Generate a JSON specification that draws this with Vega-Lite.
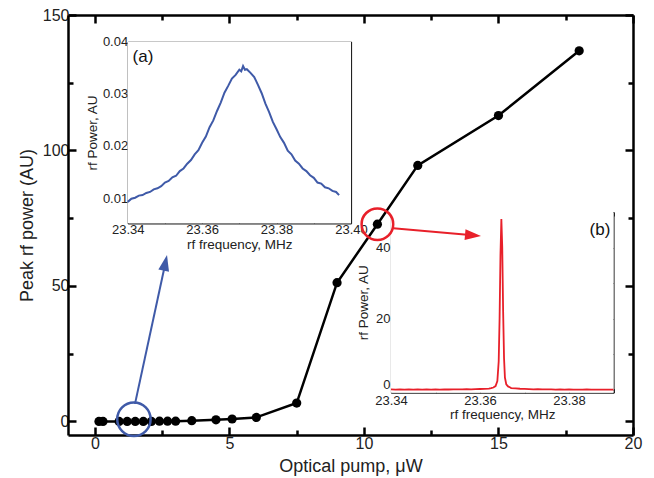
{
  "$schema": "https://vega.github.io/schema/vega-lite/v6.json",
  "width": 565,
  "height": 420,
  "autosize": {"type": "none"},
  "padding": {"left": 68, "top": 15, "right": 21, "bottom": 43},
  "background": "white",
  "config": {
    "view": {"stroke": null},
    "axis": {"grid": false, "labelFlush": false, "labelOverlap": false, "zindex": 1, "labelFont": "Liberation Sans", "titleFont": "Liberation Sans", "titleFontWeight": "normal"}
  },
  "datasets": {
    "main": [
      {"pump": 0.15, "power": 0}, {"pump": 0.3, "power": 0}, {"pump": 0.9, "power": 0}, {"pump": 1.2, "power": 0},
      {"pump": 1.5, "power": 0}, {"pump": 1.8, "power": 0}, {"pump": 2.1, "power": 0}, {"pump": 2.4, "power": 0.1},
      {"pump": 2.7, "power": 0.1}, {"pump": 3.0, "power": 0.1}, {"pump": 3.6, "power": 0.3}, {"pump": 4.5, "power": 0.6},
      {"pump": 5.1, "power": 0.9}, {"pump": 6.0, "power": 1.5}, {"pump": 7.5, "power": 6.8}, {"pump": 9.0, "power": 51.2},
      {"pump": 10.5, "power": 72.8}, {"pump": 12.0, "power": 94.5}, {"pump": 15.0, "power": 112.9}, {"pump": 18.0, "power": 136.8}
    ],
    "specA": [
      {"f": 23.340, "p": 0.0093}, {"f": 23.341, "p": 0.0099}, {"f": 23.342, "p": 0.0101}, {"f": 23.343, "p": 0.0105},
      {"f": 23.344, "p": 0.0106}, {"f": 23.345, "p": 0.0110}, {"f": 23.346, "p": 0.0112}, {"f": 23.347, "p": 0.0117},
      {"f": 23.348, "p": 0.0119}, {"f": 23.349, "p": 0.0123}, {"f": 23.350, "p": 0.0130}, {"f": 23.351, "p": 0.0133},
      {"f": 23.352, "p": 0.0140}, {"f": 23.353, "p": 0.0143}, {"f": 23.354, "p": 0.0152}, {"f": 23.355, "p": 0.0157},
      {"f": 23.356, "p": 0.0166}, {"f": 23.357, "p": 0.0173}, {"f": 23.358, "p": 0.0184}, {"f": 23.359, "p": 0.0192},
      {"f": 23.360, "p": 0.0206}, {"f": 23.361, "p": 0.0218}, {"f": 23.362, "p": 0.0236}, {"f": 23.363, "p": 0.0249},
      {"f": 23.364, "p": 0.0267}, {"f": 23.365, "p": 0.0283}, {"f": 23.366, "p": 0.0302}, {"f": 23.367, "p": 0.0315},
      {"f": 23.368, "p": 0.0329}, {"f": 23.369, "p": 0.0336}, {"f": 23.370, "p": 0.0346}, {"f": 23.3705, "p": 0.0343},
      {"f": 23.371, "p": 0.0353}, {"f": 23.3715, "p": 0.0346}, {"f": 23.372, "p": 0.0347}, {"f": 23.373, "p": 0.0340},
      {"f": 23.374, "p": 0.0332}, {"f": 23.375, "p": 0.0317}, {"f": 23.376, "p": 0.0301}, {"f": 23.377, "p": 0.0281},
      {"f": 23.378, "p": 0.0265}, {"f": 23.379, "p": 0.0246}, {"f": 23.380, "p": 0.0232}, {"f": 23.381, "p": 0.0217},
      {"f": 23.382, "p": 0.0206}, {"f": 23.383, "p": 0.0191}, {"f": 23.384, "p": 0.0184}, {"f": 23.385, "p": 0.0172},
      {"f": 23.386, "p": 0.0166}, {"f": 23.387, "p": 0.0157}, {"f": 23.388, "p": 0.0152}, {"f": 23.389, "p": 0.0144},
      {"f": 23.390, "p": 0.0139}, {"f": 23.391, "p": 0.0130}, {"f": 23.392, "p": 0.0128}, {"f": 23.393, "p": 0.0121},
      {"f": 23.394, "p": 0.0119}, {"f": 23.395, "p": 0.0114}, {"f": 23.396, "p": 0.0112}, {"f": 23.3968, "p": 0.0106}
    ],
    "specB": [
      {"f": 23.340, "p": 0.15}, {"f": 23.341, "p": 0.1}, {"f": 23.342, "p": 0.18}, {"f": 23.343, "p": 0.12},
      {"f": 23.344, "p": 0.15}, {"f": 23.345, "p": 0.1}, {"f": 23.346, "p": 0.17}, {"f": 23.347, "p": 0.12},
      {"f": 23.348, "p": 0.14}, {"f": 23.349, "p": 0.1}, {"f": 23.350, "p": 0.15}, {"f": 23.351, "p": 0.12},
      {"f": 23.352, "p": 0.18}, {"f": 23.353, "p": 0.14}, {"f": 23.354, "p": 0.16}, {"f": 23.355, "p": 0.2},
      {"f": 23.356, "p": 0.17}, {"f": 23.357, "p": 0.22}, {"f": 23.358, "p": 0.2}, {"f": 23.359, "p": 0.25},
      {"f": 23.360, "p": 0.28}, {"f": 23.361, "p": 0.3}, {"f": 23.362, "p": 0.4}, {"f": 23.3625, "p": 0.5},
      {"f": 23.363, "p": 0.7}, {"f": 23.3635, "p": 1.1}, {"f": 23.3639, "p": 2.5}, {"f": 23.3642, "p": 8},
      {"f": 23.3644, "p": 20}, {"f": 23.3646, "p": 38}, {"f": 23.3648, "p": 48}, {"f": 23.3650, "p": 40},
      {"f": 23.3652, "p": 22}, {"f": 23.3654, "p": 9}, {"f": 23.3656, "p": 3.5}, {"f": 23.3659, "p": 1.6},
      {"f": 23.3663, "p": 1.0}, {"f": 23.3668, "p": 0.7}, {"f": 23.367, "p": 0.55}, {"f": 23.368, "p": 0.45},
      {"f": 23.369, "p": 0.35}, {"f": 23.370, "p": 0.3}, {"f": 23.371, "p": 0.25}, {"f": 23.372, "p": 0.2},
      {"f": 23.373, "p": 0.22}, {"f": 23.374, "p": 0.18}, {"f": 23.375, "p": 0.15}, {"f": 23.376, "p": 0.17},
      {"f": 23.377, "p": 0.12}, {"f": 23.378, "p": 0.15}, {"f": 23.379, "p": 0.11}, {"f": 23.380, "p": 0.14},
      {"f": 23.381, "p": 0.1}, {"f": 23.382, "p": 0.13}, {"f": 23.383, "p": 0.11}, {"f": 23.384, "p": 0.14},
      {"f": 23.385, "p": 0.1}, {"f": 23.386, "p": 0.12}, {"f": 23.387, "p": 0.1}, {"f": 23.388, "p": 0.13},
      {"f": 23.389, "p": 0.11}, {"f": 23.390, "p": 0.12}
    ],
    "frameA": [{"x1": 23.34, "x2": 23.40, "y1": 0.0052, "y2": 0.04}],
    "frameB": [{"x1": 23.34, "x2": 23.39, "y1": -0.76, "y2": 50}],
    "labelA": [{"f": 23.3413, "p": 0.0371, "t": "(a)"}],
    "labelB": [{"f": 23.3893, "p": 44.9, "t": "(b)"}],
    "circles": [
      {"x": 1.45, "y": 0.8, "c": "#3f5aa8", "s": 1115},
      {"x": 10.5, "y": 72.8, "c": "#e8202a", "s": 1000}
    ],
    "arrowLines": [
      {"x": 1.49, "y": 6.5, "x2": 2.62, "y2": 58.5, "c": "#3f5aa8"},
      {"x": 11.09, "y": 71.3, "x2": 14.05, "y2": 68.7, "c": "#e8202a"}
    ],
    "arrowHeads": [
      {"x": 2.68, "y": 61.4, "ang": 12, "c": "#3f5aa8"},
      {"x": 14.35, "y": 68.45, "ang": 95, "c": "#e8202a"}
    ]
  },
  "resolve": {
    "scale": {"x": "independent", "y": "independent"},
    "axis": {"x": "independent", "y": "independent"}
  },
  "layer": [
    {
      "data": {"name": "main"},
      "mark": {"type": "line", "color": "black", "strokeWidth": 2.5},
      "encoding": {
        "x": {"field": "pump", "type": "quantitative",
          "scale": {"domain": [-1, 20], "nice": false, "zero": false},
          "axis": {"orient": "bottom", "values": [0, 2.5, 5, 7.5, 10, 12.5, 15, 17.5, 20],
            "labelExpr": "datum.value % 5 == 0 ? datum.label : ''",
            "tickSize": {"condition": {"test": "datum.value % 5 == 0", "value": -8}, "value": -5},
            "tickWidth": 2.5, "tickColor": "black", "domainColor": "black", "domainWidth": 2.5,
            "labelFontSize": 16, "labelColor": "#222", "labelPadding": 8,
            "title": "Optical pump, μW", "titleFontSize": 18, "titleColor": "#222", "titlePadding": 3}},
        "y": {"field": "power", "type": "quantitative",
          "scale": {"domain": [-5, 150], "nice": false, "zero": false},
          "axis": {"orient": "left", "values": [0, 25, 50, 75, 100, 125, 150],
            "labelExpr": "datum.value % 50 == 0 ? datum.label : ''",
            "tickSize": {"condition": {"test": "datum.value % 50 == 0", "value": -8}, "value": -5},
            "tickWidth": 2.5, "tickColor": "black", "domainColor": "black", "domainWidth": 2.5,
            "labelFontSize": 16, "labelColor": "#222", "labelPadding": 7,
            "title": "Peak rf power (AU)", "titleFontSize": 18, "titleColor": "#222", "titlePadding": 6}}
      }
    },
    {
      "data": {"name": "main"},
      "mark": {"type": "point", "filled": true, "color": "black", "opacity": 1, "size": 85},
      "encoding": {
        "x": {"field": "pump", "type": "quantitative", "scale": {"domain": [-1, 20], "nice": false, "zero": false}, "axis": null},
        "y": {"field": "power", "type": "quantitative", "scale": {"domain": [-5, 150], "nice": false, "zero": false}, "axis": null}
      }
    },
    {
      "data": {"name": "frameA"},
      "mark": {"type": "rect", "fill": "white"},
      "encoding": {
        "x": {"field": "x1", "type": "quantitative",
          "scale": {"domain": [23.34, 23.40], "range": [59.7, 283], "nice": false, "zero": false},
          "axis": {"orient": "bottom", "offset": -211.7, "values": [23.34, 23.35, 23.36, 23.37, 23.38, 23.39, 23.40],
            "labelExpr": "round(datum.value*1000) % 20 == 0 ? format(datum.value, '.2f') : ''",
            "tickSize": -4, "tickWidth": 1, "tickColor": "#222", "domainColor": "#222", "domainWidth": 1.2,
            "labelFontSize": 13, "labelColor": "#222", "labelPadding": 4,
            "title": "rf  frequency, MHz", "titleFontSize": 13.5, "titleColor": "#222", "titlePadding": 1}},
        "x2": {"field": "x2"},
        "y": {"field": "y1", "type": "quantitative",
          "scale": {"domain": [0.0052, 0.04], "range": [208.3, 26.5], "nice": false, "zero": false},
          "axis": {"orient": "left", "offset": -59.7, "values": [0.01, 0.015, 0.02, 0.025, 0.03, 0.035, 0.04],
            "labelExpr": "round(datum.value*1000) % 10 == 0 ? format(datum.value, '.2f') : ''",
            "tickSize": -4, "tickWidth": 1, "tickColor": "#222", "domainColor": "#222", "domainWidth": 1.2,
            "labelFontSize": 13, "labelColor": "#222", "labelPadding": 4,
            "title": "rf Power, AU", "titleFontSize": 13.5, "titleColor": "#222", "titlePadding": 3}},
        "y2": {"field": "y2"}
      }
    },
    {
      "data": {"name": "specA"},
      "mark": {"type": "line", "color": "#3f5aa8", "strokeWidth": 2},
      "encoding": {
        "x": {"field": "f", "type": "quantitative",
          "scale": {"domain": [23.34, 23.40], "range": [59.7, 283], "nice": false, "zero": false},
          "axis": {"orient": "top", "offset": -26.5, "values": [23.34, 23.35, 23.36, 23.37, 23.38, 23.39, 23.40],
            "labels": false, "title": null, "tickSize": -4, "tickWidth": 1, "tickColor": "#222", "domainColor": "#222", "domainWidth": 1.2}},
        "y": {"field": "p", "type": "quantitative",
          "scale": {"domain": [0.0052, 0.04], "range": [208.3, 26.5], "nice": false, "zero": false},
          "axis": {"orient": "right", "offset": -282, "values": [0.01, 0.015, 0.02, 0.025, 0.03, 0.035, 0.04],
            "labels": false, "title": null, "tickSize": -4, "tickWidth": 1, "tickColor": "#222", "domainColor": "#222", "domainWidth": 1.2}}
      }
    },
    {
      "data": {"name": "labelA"},
      "mark": {"type": "text", "align": "left", "baseline": "middle", "font": "Liberation Sans", "fontSize": 17, "color": "#111"},
      "encoding": {
        "x": {"field": "f", "type": "quantitative", "scale": {"domain": [23.34, 23.40], "range": [59.7, 283], "nice": false, "zero": false}, "axis": null},
        "y": {"field": "p", "type": "quantitative", "scale": {"domain": [0.0052, 0.04], "range": [208.3, 26.5], "nice": false, "zero": false}, "axis": null},
        "text": {"field": "t"}
      }
    },
    {
      "data": {"name": "frameB"},
      "mark": {"type": "rect", "fill": "white"},
      "encoding": {
        "x": {"field": "x1", "type": "quantitative",
          "scale": {"domain": [23.34, 23.39], "range": [323, 545.5], "nice": false, "zero": false},
          "axis": {"orient": "bottom", "offset": -42.3, "values": [23.34, 23.35, 23.36, 23.37, 23.38, 23.39],
            "labelExpr": "round(datum.value*1000) % 20 == 0 ? format(datum.value, '.2f') : ''",
            "tickSize": -4, "tickWidth": 1, "tickColor": "#222", "domainColor": "#222", "domainWidth": 1.2,
            "labelFontSize": 13, "labelColor": "#222", "labelPadding": 6,
            "title": "rf  frequency, MHz", "titleFontSize": 13.5, "titleColor": "#222", "titlePadding": 0}},
        "x2": {"field": "x2"},
        "y": {"field": "y1", "type": "quantitative",
          "scale": {"domain": [-0.76, 50], "range": [377.7, 197], "nice": false, "zero": false},
          "axis": {"orient": "left", "offset": -323, "values": [0, 10, 20, 30, 40],
            "labelExpr": "datum.value % 20 == 0 ? datum.label : ''",
            "tickSize": -4, "tickWidth": 1, "tickColor": "#222", "domainColor": "#222", "domainWidth": 1.2,
            "labelFontSize": 13, "labelColor": "#222", "labelPadding": 5,
            "labelOffset": {"condition": {"test": "datum.value == 0", "value": -5}, "value": 0},
            "title": "rf Power, AU", "titleFontSize": 13.5, "titleColor": "#222", "titlePadding": 5}},
        "y2": {"field": "y2"}
      }
    },
    {
      "data": {"name": "specB"},
      "mark": {"type": "line", "color": "#e8202a", "strokeWidth": 1.8},
      "encoding": {
        "x": {"field": "f", "type": "quantitative",
          "scale": {"domain": [23.34, 23.39], "range": [323, 545.5], "nice": false, "zero": false},
          "axis": {"orient": "top", "offset": -197, "values": [23.34, 23.35, 23.36, 23.37, 23.38, 23.39],
            "labels": false, "title": null, "tickSize": -4, "tickWidth": 1, "tickColor": "#222", "domainColor": "#222", "domainWidth": 1.2}},
        "y": {"field": "p", "type": "quantitative",
          "scale": {"domain": [-0.76, 50], "range": [377.7, 197], "nice": false, "zero": false},
          "axis": {"orient": "right", "offset": -19.5, "values": [0, 10, 20, 30, 40],
            "labels": false, "title": null, "tickSize": -4, "tickWidth": 1, "tickColor": "#222", "domainColor": "#222", "domainWidth": 1.2}}
      }
    },
    {
      "data": {"name": "labelB"},
      "mark": {"type": "text", "align": "right", "baseline": "middle", "font": "Liberation Sans", "fontSize": 17, "color": "#111"},
      "encoding": {
        "x": {"field": "f", "type": "quantitative", "scale": {"domain": [23.34, 23.39], "range": [323, 545.5], "nice": false, "zero": false}, "axis": null},
        "y": {"field": "p", "type": "quantitative", "scale": {"domain": [-0.76, 50], "range": [377.7, 197], "nice": false, "zero": false}, "axis": null},
        "text": {"field": "t"}
      }
    },
    {
      "data": {"name": "circles"},
      "mark": {"type": "point", "shape": "circle", "filled": false, "strokeWidth": 2.5, "opacity": 1},
      "encoding": {
        "x": {"field": "x", "type": "quantitative",
          "scale": {"domain": [-1, 20], "nice": false, "zero": false},
          "axis": {"orient": "top", "values": [0, 2.5, 5, 7.5, 10, 12.5, 15, 17.5, 20], "labels": false, "title": null,
            "tickSize": {"condition": {"test": "datum.value % 5 == 0", "value": -8}, "value": -5},
            "tickWidth": 2.5, "tickColor": "black", "domainColor": "black", "domainWidth": 2.5}},
        "y": {"field": "y", "type": "quantitative",
          "scale": {"domain": [-5, 150], "nice": false, "zero": false},
          "axis": {"orient": "right", "values": [0, 25, 50, 75, 100, 125, 150], "labels": false, "title": null,
            "tickSize": {"condition": {"test": "datum.value % 50 == 0", "value": -8}, "value": -5},
            "tickWidth": 2.5, "tickColor": "black", "domainColor": "black", "domainWidth": 2.5}},
        "stroke": {"field": "c", "type": "nominal", "scale": null},
        "size": {"field": "s", "type": "quantitative", "scale": null}
      }
    },
    {
      "data": {"name": "arrowLines"},
      "mark": {"type": "rule", "strokeWidth": 2},
      "encoding": {
        "x": {"field": "x", "type": "quantitative", "scale": {"domain": [-1, 20], "nice": false, "zero": false}, "axis": null},
        "y": {"field": "y", "type": "quantitative", "scale": {"domain": [-5, 150], "nice": false, "zero": false}, "axis": null},
        "x2": {"field": "x2"},
        "y2": {"field": "y2"},
        "color": {"field": "c", "type": "nominal", "scale": null}
      }
    },
    {
      "data": {"name": "arrowHeads"},
      "mark": {"type": "point", "shape": "M0,0 L0.34,1 L-0.34,1 Z", "filled": true, "size": 1024, "opacity": 1},
      "encoding": {
        "x": {"field": "x", "type": "quantitative", "scale": {"domain": [-1, 20], "nice": false, "zero": false}, "axis": null},
        "y": {"field": "y", "type": "quantitative", "scale": {"domain": [-5, 150], "nice": false, "zero": false}, "axis": null},
        "angle": {"field": "ang", "type": "quantitative", "scale": null},
        "color": {"field": "c", "type": "nominal", "scale": null}
      }
    }
  ]
}
